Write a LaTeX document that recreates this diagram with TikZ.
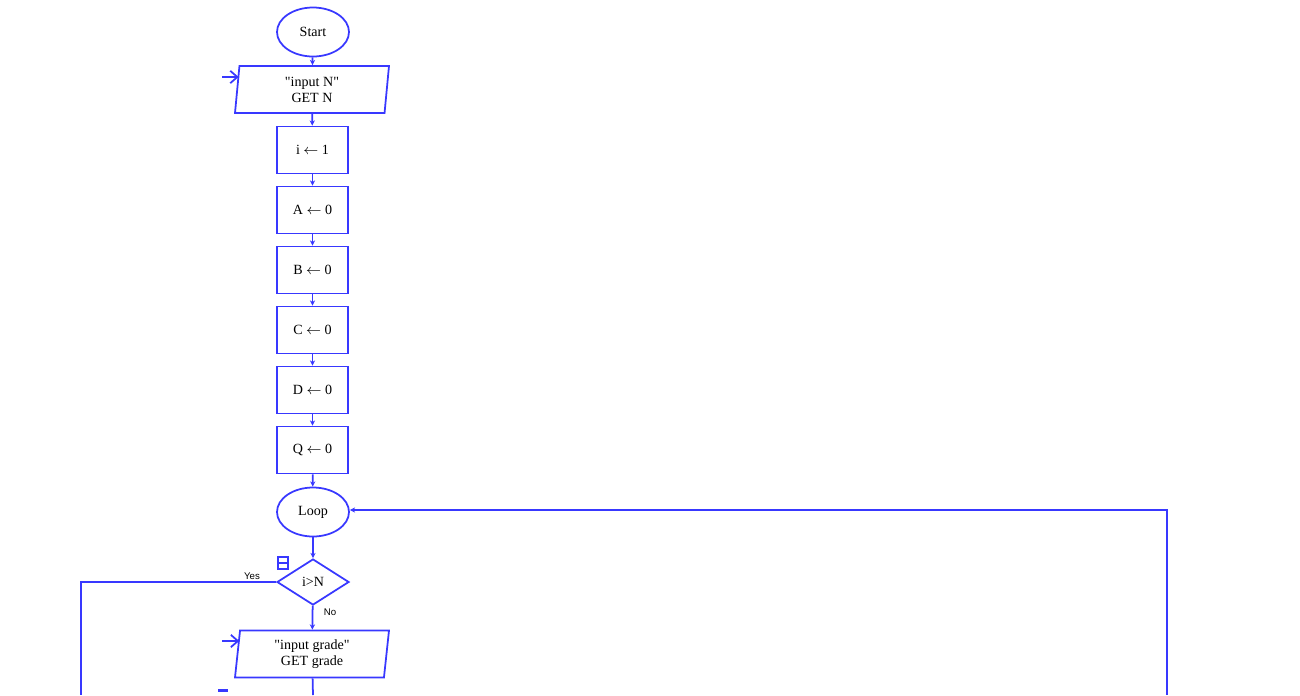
\documentclass[tikz,border=0pt]{standalone}
\usepackage{fontspec}
\setmainfont{Liberation Serif}
\newfontfamily\labelfont{Liberation Sans}
\usepackage{tikz}
\usepackage{xcolor}
\usetikzlibrary{arrows.meta,positioning,shapes.geometric,calc}
\definecolor{ChartBlue}{HTML}{3838FF}

\begin{document}
\begin{tikzpicture}[
  terminal/.style={ellipse, draw=ChartBlue, line width=1pt, align=center,
                   font=\fontsize{8}{9}\selectfont, minimum width=1.44cm,
                   minimum height=0.98cm, inner sep=0pt},
  iobox/.style={trapezium, trapezium left angle=80, trapezium right angle=100,
                trapezium stretches body, draw=ChartBlue, line width=1pt,
                align=center, font=\fontsize{8}{9}\selectfont,
                minimum width=3.08cm, minimum height=0.94cm, inner sep=0pt},
  assign/.style={rectangle, draw=ChartBlue, line width=1pt, align=center,
                 font=\fontsize{8}{9}\selectfont, minimum width=1.42cm,
                 minimum height=0.94cm, inner sep=0pt},
  test/.style={diamond, draw=ChartBlue, line width=1pt, align=center,
               font=\fontsize{8}{9}\selectfont, minimum width=1.44cm,
               minimum height=0.92cm, aspect=1.56, inner sep=0pt},
  branch/.style={font=\labelfont\fontsize{5.5}{6.5}\selectfont, inner sep=0pt},
  arr/.style={-{Stealth[length=3pt,width=3pt]}, line width=1pt, draw=ChartBlue},
  entry/.style={-{Straight Barb[length=4pt,width=7pt]}, line width=1pt, draw=ChartBlue},
  wire/.style={line width=1pt, draw=ChartBlue}
]
  \useasboundingbox (0,0) rectangle (26,-13.9);

  \node[terminal] (start) at (6.26,-0.64) {Start};
  \node[iobox] (inN) at (6.24,-1.79) {\textquotedbl input N\textquotedbl\\GET N};
  \node[assign] (seti) at (6.25,-3.0) {i $\leftarrow$ 1};
  \node[assign] (setA) at (6.25,-4.2) {A $\leftarrow$ 0};
  \node[assign] (setB) at (6.25,-5.4) {B $\leftarrow$ 0};
  \node[assign] (setC) at (6.25,-6.6) {C $\leftarrow$ 0};
  \node[assign] (setD) at (6.25,-7.8) {D $\leftarrow$ 0};
  \node[assign] (setQ) at (6.25,-9.0) {Q $\leftarrow$ 0};
  \node[terminal] (loop) at (6.26,-10.24) {Loop};
  \node[test] (check) at (6.26,-11.64) {i>N};
  \node[iobox] (inGrade) at (6.24,-13.08) {\textquotedbl input grade\textquotedbl\\GET grade};

  \node[branch] (yes) at (5.04,-11.52) {Yes};
  \node[branch] (no) at (6.6,-12.24) {No};

  % collapse marker beside the test
  \draw[wire] (5.56,-11.14) rectangle (5.76,-11.38);
  \draw[wire] (5.56,-11.26) -- (5.76,-11.26);
  \draw[wire, line width=1.2pt] (4.36,-13.81) -- (4.56,-13.81);

  \coordinate (inNin) at (4.44,-1.54);
  \coordinate (gradein) at (4.44,-12.82);
  \coordinate (yesturn) at (1.62,-11.64);
  \coordinate (yesend) at (1.62,-13.9);
  \coordinate (gradeout) at (6.26,-13.9);
  \coordinate (backstart) at (23.34,-13.9);
  \coordinate (backturn) at (23.34,-10.2);

  \draw[arr] (start) -- (inN);
  \draw[arr] (inN) -- (seti);
  \draw[arr] (seti) -- (setA);
  \draw[arr] (setA) -- (setB);
  \draw[arr] (setB) -- (setC);
  \draw[arr] (setC) -- (setD);
  \draw[arr] (setD) -- (setQ);
  \draw[arr] (setQ) -- (loop);
  \draw[arr] (loop) -- (check);
  \draw[arr] (check) -- (inGrade);
  \draw[wire] (inGrade) -- (gradeout);
  \draw[wire] (check.west) -- (yesturn) -- (yesend);
  \draw[arr] (backstart) -- (backturn) -- (backturn -| loop.east);
  \draw[entry] (inNin) -- (inNin -| inN.top left corner);
  \draw[entry] (gradein) -- (gradein -| inGrade.top left corner);
\end{tikzpicture}
\end{document}
